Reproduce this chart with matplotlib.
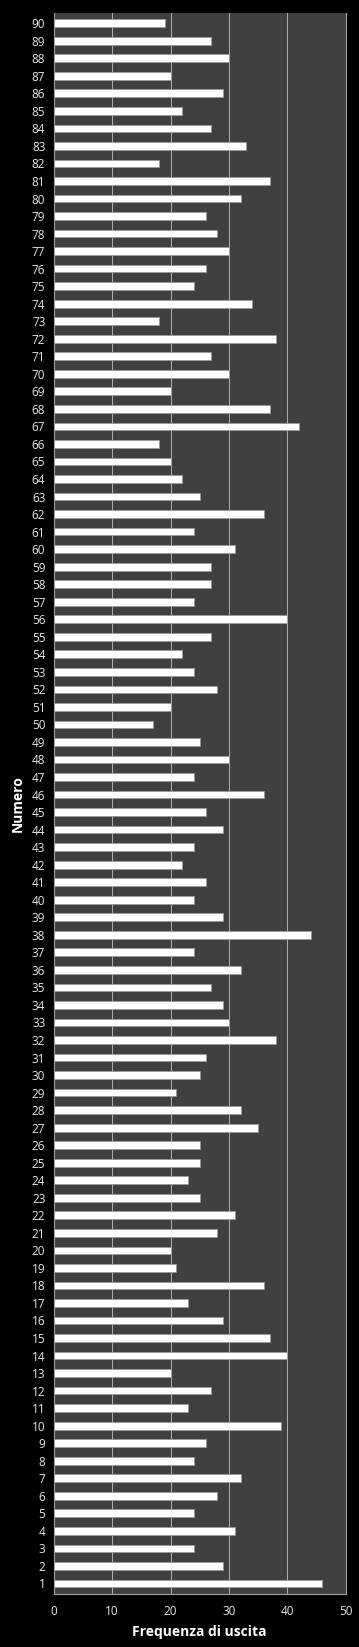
import matplotlib
matplotlib.use("Agg")
import matplotlib.pyplot as plt

# numbers 1..90 and how many times each was drawn
numeri = list(range(1, 91))
frequenze = [
    46, 29, 24, 31, 24, 28, 32, 24, 26, 39,   # 1-10
    23, 27, 20, 40, 37, 29, 23, 36, 21, 20,   # 11-20
    28, 31, 25, 23, 25, 25, 35, 32, 21, 25,   # 21-30
    26, 38, 30, 29, 27, 32, 24, 44, 29, 24,   # 31-40
    26, 22, 24, 29, 26, 36, 24, 30, 25, 17,   # 41-50
    20, 28, 24, 22, 27, 40, 24, 27, 27, 31,   # 51-60
    24, 36, 25, 22, 20, 18, 42, 37, 20, 30,   # 61-70
    27, 38, 18, 34, 24, 26, 30, 28, 26, 32,   # 71-80
    37, 18, 33, 27, 22, 29, 20, 30, 27, 19,   # 81-90
]
x_ticks = [0, 10, 20, 30, 40, 50]

plt.rcParams['font.family'] = ['Open Sans', 'DejaVu Sans']

fig = plt.figure(figsize=(3.59, 16.47), dpi=100, facecolor='black')
ax = fig.add_axes([0.1496, 0.0322, 0.8134, 0.9601])
ax.set_facecolor('#404040')

ax.barh(numeri, frequenze, height=0.44, color='white',
        edgecolor='#9a9a9a', linewidth=0.6, zorder=3)

ax.set_xlim(0, 50)
ax.set_ylim(0.4, 90.6)
ax.set_xticks(x_ticks)
ax.set_yticks(numeri)
ax.set_yticklabels([str(n) for n in numeri])
ax.grid(axis='x', color='#b0b0b0', linewidth=0.7, zorder=0)
ax.tick_params(colors='#e8e8e8', labelsize=8.5, length=0)
ax.tick_params(axis='y', pad=6)
ax.tick_params(axis='x', pad=8)

ax.spines['top'].set_visible(False)
for s in ['left', 'bottom', 'right']:
    ax.spines[s].set_color('#a0a0a0')
    ax.spines[s].set_linewidth(0.8)

ax.set_xlabel('Frequenza di uscita', color='white', fontsize=10,
              fontweight='bold', labelpad=5)
ax.set_ylabel('Numero', color='white', fontsize=10,
              fontweight='bold', labelpad=5)

fig.savefig('out.png', dpi=100, facecolor='black')
